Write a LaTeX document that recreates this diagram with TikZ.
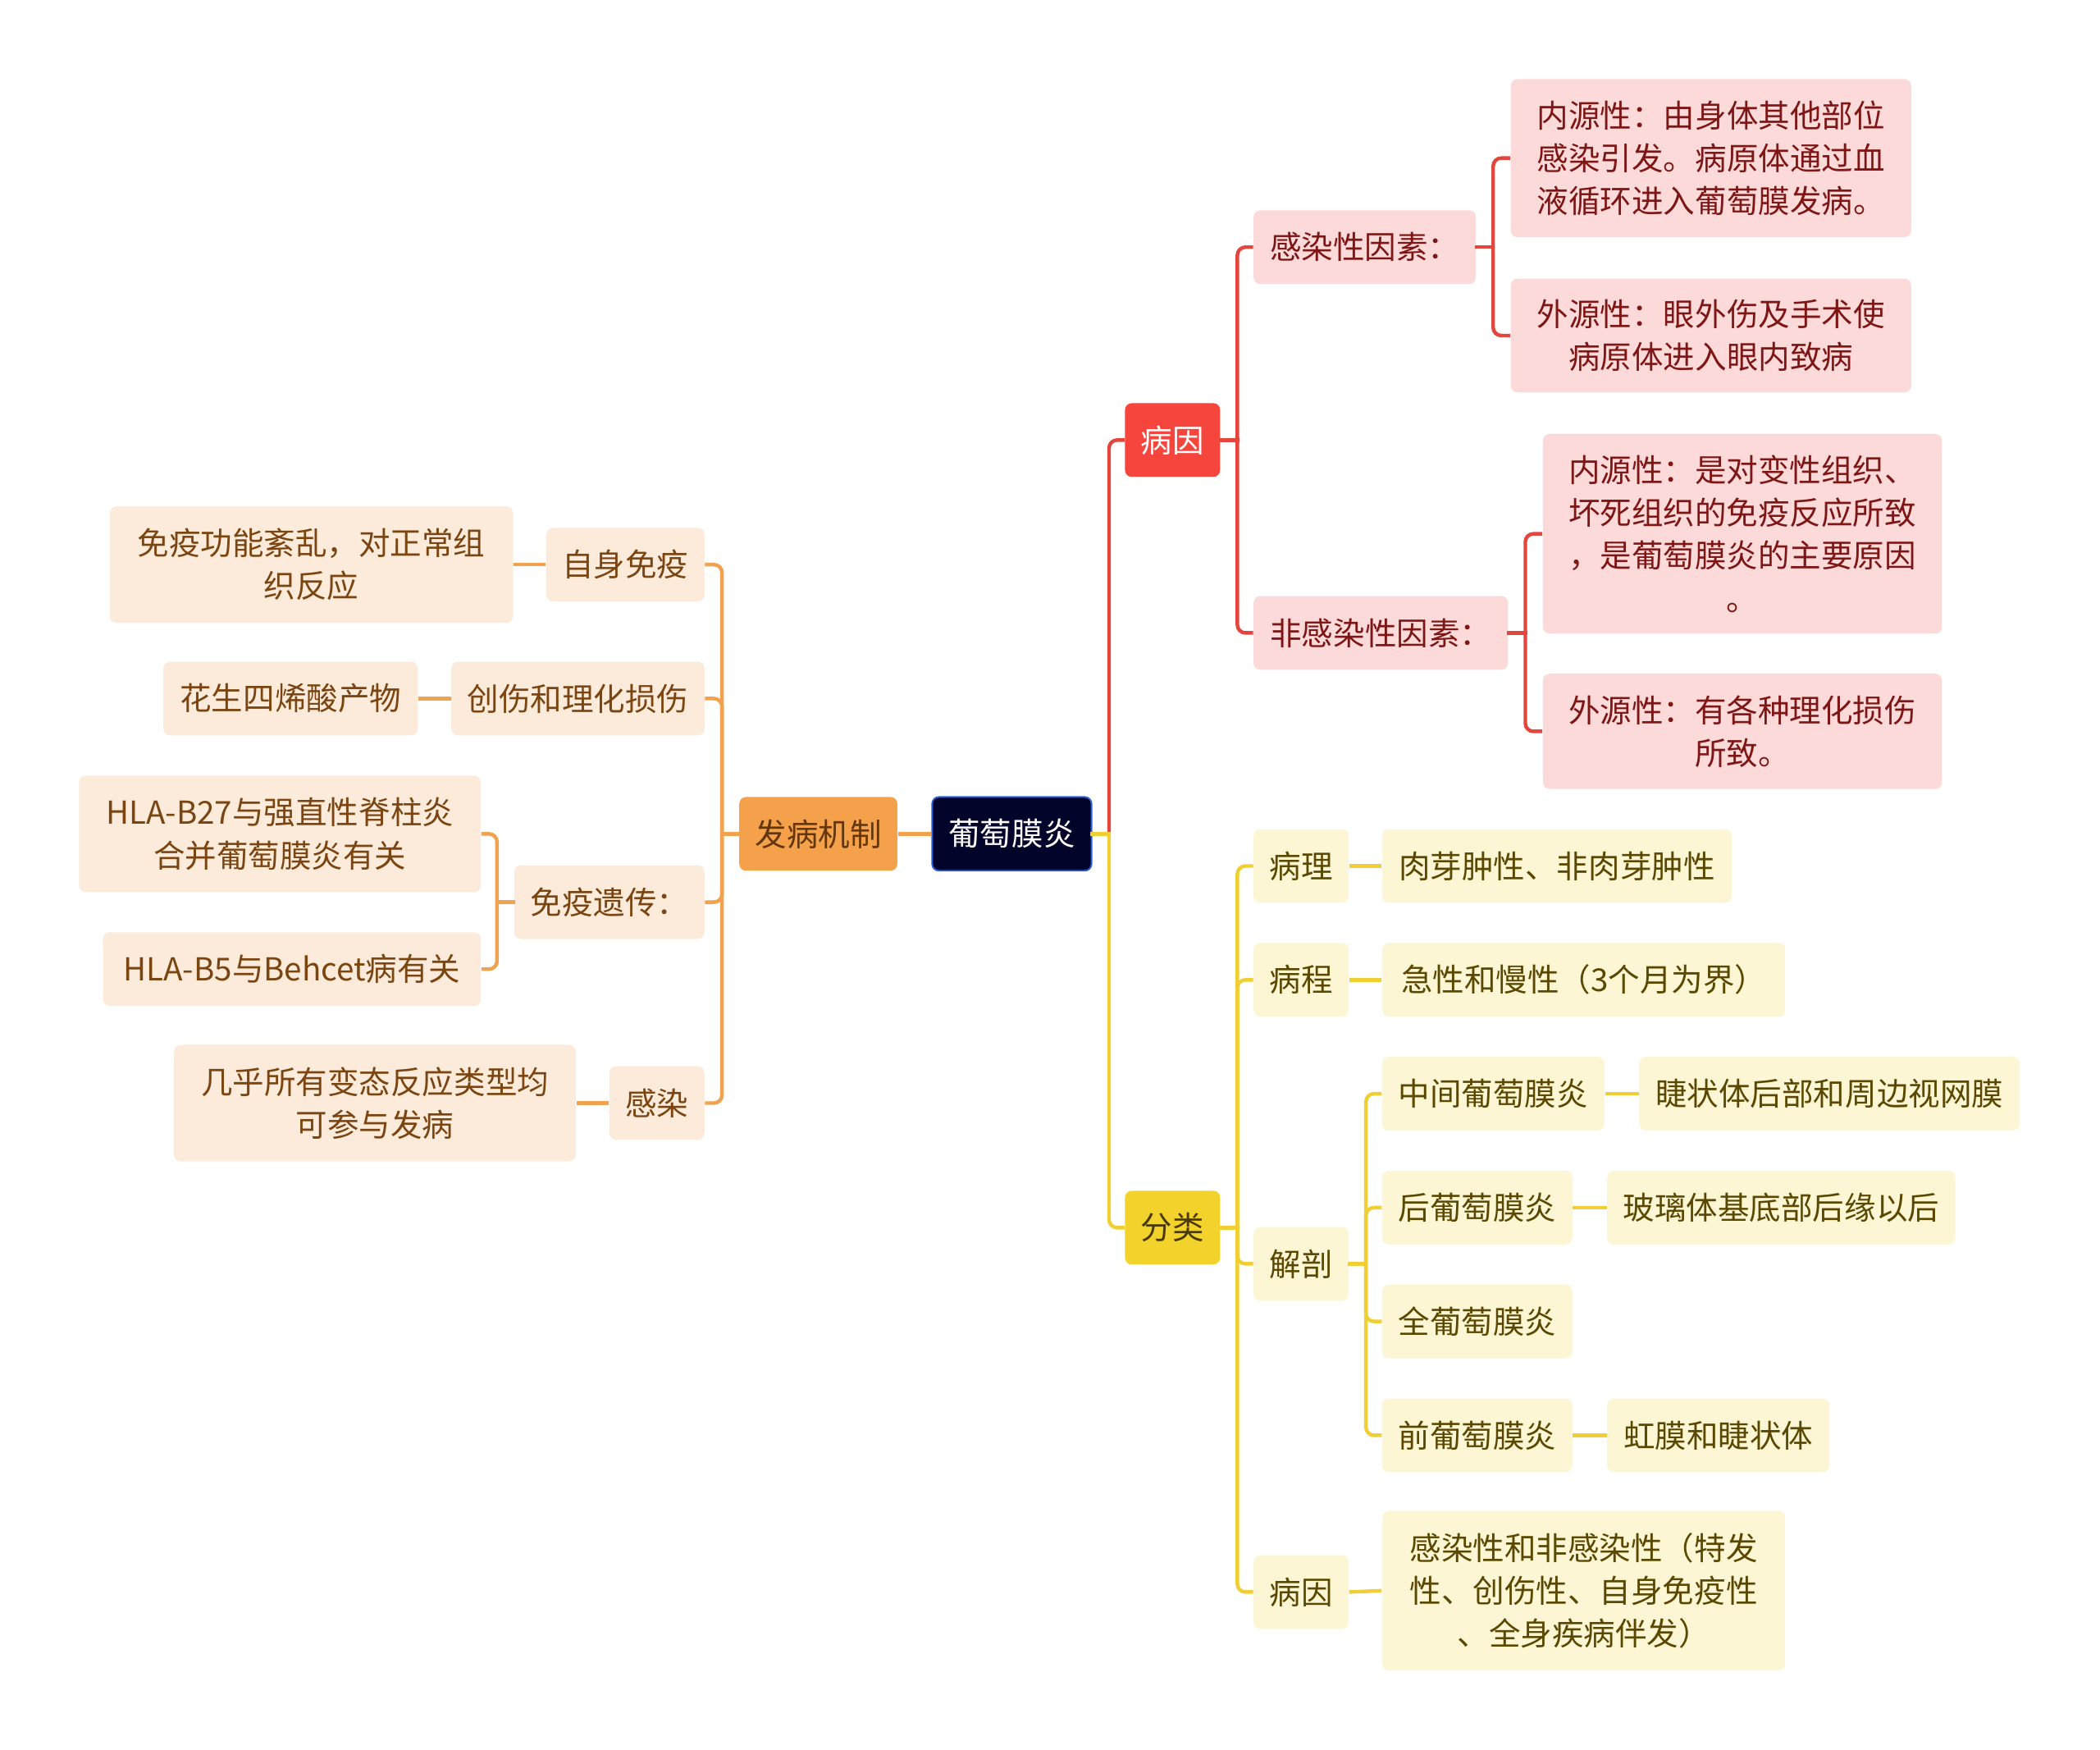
\documentclass[tikz,border=0pt]{standalone}
\usepackage{fontspec}
\setmainfont{Noto Sans CJK SC}
\definecolor{rootfill}{HTML}{03042A}
\definecolor{rootborder}{HTML}{2E5FD6}
\definecolor{redfill}{HTML}{F5453C}
\definecolor{pinkfill}{HTML}{FCDADA}
\definecolor{redtext}{HTML}{7E1616}
\definecolor{redline}{HTML}{E2463D}
\definecolor{orgfill}{HTML}{F5A14B}
\definecolor{peachfill}{HTML}{FCEBDA}
\definecolor{orgtext}{HTML}{7A4510}
\definecolor{orgline}{HTML}{F0A24F}
\definecolor{yelfill}{HTML}{F3D22C}
\definecolor{creamfill}{HTML}{FDF6D4}
\definecolor{yeltext}{HTML}{5A4800}
\definecolor{yelline}{HTML}{EFCF33}
\tikzset{
  base/.style={rounded corners=2.5pt, inner sep=0pt, align=center, font=\fontsize{11.8}{16}\selectfont},
  rootbox/.style={base, fill=rootfill, draw=rootborder, line width=0.6pt, text=white},
  redmain/.style={base, fill=redfill, text=white},
  redsub/.style={base, fill=pinkfill, text=redtext},
  orgmain/.style={base, fill=orgfill, text=orgtext!80!black},
  orgsub/.style={base, fill=peachfill, text=orgtext},
  yelmain/.style={base, fill=yelfill, text=yeltext!80!black},
  yelsub/.style={base, fill=creamfill, text=yeltext},
  conn/.style={line width=1.35pt, rounded corners=3pt},
  rl/.style={conn, draw=redline},
  ol/.style={conn, draw=orgline},
  yl/.style={conn, draw=yelline},
}
\newcommand\mmnode[7]{\node[#1, minimum width={(#5-#3)*0.5pt}, minimum height={(#6-#4)*0.5pt}] (#2) at ({(#3+#5)/2},{(#4+#6)/2}) {#7};}
% stub from parent to its trunk
\newcommand\stubR[2]{\draw[#1, line cap=rect] (#2.east) -- ([xshift=6.25pt]#2.east);}
\newcommand\stubL[2]{\draw[#1, line cap=rect] (#2.west) -- ([xshift=-6.25pt]#2.west);}
% trunk to child, rounded at the child side
\newcommand\linkR[3]{\draw[#1] ([xshift=6.25pt]#2.east) |- (#3.west);}
\newcommand\linkL[3]{\draw[#1] ([xshift=-6.25pt]#2.west) |- (#3.east);}
\begin{document}
\begin{tikzpicture}[x=0.5pt,y=-0.5pt]
\useasboundingbox (0,0) rectangle (1568,1306);
% root and main branches
\mmnode{rootbox}{root}{696}{595}{815}{650}{葡萄膜炎}
\mmnode{orgmain}{fbjz}{552}{595}{670}{650}{发病机制}
\mmnode{redmain}{byA}{840}{301}{911}{356}{病因}
\mmnode{yelmain}{fl}{840}{889}{911}{944}{分类}
% red branch
\mmnode{redsub}{grx}{936}{157}{1102}{212}{感染性因素：}
\mmnode{redsub}{fgrx}{936}{445}{1126}{500}{非感染性因素：}
\mmnode{redsub}{ra}{1128}{59}{1427}{177}{内源性：由身体其他部位\\感染引发。病原体通过血\\液循环进入葡萄膜发病。}
\mmnode{redsub}{rb}{1128}{208}{1427}{293}{外源性：眼外伤及手术使\\病原体进入眼内致病}
\mmnode{redsub}{rc}{1152}{324}{1450}{473}{内源性：是对变性组织、\\坏死组织的免疫反应所致\\，是葡萄膜炎的主要原因\\。}
\mmnode{redsub}{rd}{1152}{503}{1450}{589}{外源性：有各种理化损伤\\所致。}
% yellow branch
\mmnode{yelsub}{bl}{936}{619}{1007}{674}{病理}
\mmnode{yelsub}{blA}{1032}{619}{1293}{674}{肉芽肿性、非肉芽肿性}
\mmnode{yelsub}{bc}{936}{704}{1007}{759}{病程}
\mmnode{yelsub}{bcA}{1032}{704}{1333}{759}{急性和慢性（3个月为界）}
\mmnode{yelsub}{jp}{936}{916}{1007}{971}{解剖}
\mmnode{yelsub}{zj}{1032}{789}{1198}{844}{中间葡萄膜炎}
\mmnode{yelsub}{zjA}{1224}{789}{1508}{844}{睫状体后部和周边视网膜}
\mmnode{yelsub}{hp}{1032}{874}{1174}{929}{后葡萄膜炎}
\mmnode{yelsub}{hpA}{1200}{874}{1460}{929}{玻璃体基底部后缘以后}
\mmnode{yelsub}{qp}{1032}{959}{1174}{1014}{全葡萄膜炎}
\mmnode{yelsub}{qq}{1032}{1044}{1174}{1099}{前葡萄膜炎}
\mmnode{yelsub}{qqA}{1200}{1044}{1366}{1099}{虹膜和睫状体}
\mmnode{yelsub}{byB}{936}{1161}{1007}{1216}{病因}
\mmnode{yelsub}{byBA}{1032}{1128}{1333}{1247}{感染性和非感染性（特发\\性、创伤性、自身免疫性\\、全身疾病伴发）}
% orange branch
\mmnode{orgsub}{zsmy}{408}{394}{526}{449}{自身免疫}
\mmnode{orgsub}{zsmyA}{82}{378}{383}{465}{免疫功能紊乱，对正常组\\织反应}
\mmnode{orgsub}{cshl}{337}{494}{526}{549}{创伤和理化损伤}
\mmnode{orgsub}{cshlA}{122}{494}{312}{549}{花生四烯酸产物}
\mmnode{orgsub}{mycy}{384}{646}{526}{701}{免疫遗传：}
\mmnode{orgsub}{hlaA}{59}{579}{359}{666}{HLA-B27与强直性脊柱炎\\合并葡萄膜炎有关}
\mmnode{orgsub}{hlaB}{77}{696}{359}{751}{HLA-B5与Behcet病有关}
\mmnode{orgsub}{gr}{455}{796}{526}{851}{感染}
\mmnode{orgsub}{grA}{130}{780}{430}{867}{几乎所有变态反应类型均\\可参与发病}
% connectors
\draw[ol] (root.west) -- (fbjz.east);
\linkR{rl}{root}{byA}
\linkR{yl}{root}{fl}
\stubR{yl}{root}
\stubR{rl}{byA}
\linkR{rl}{byA}{grx}
\linkR{rl}{byA}{fgrx}
\stubR{rl}{grx}
\linkR{rl}{grx}{ra}
\linkR{rl}{grx}{rb}
\stubR{rl}{fgrx}
\linkR{rl}{fgrx}{rc}
\linkR{rl}{fgrx}{rd}
\stubR{yl}{fl}
\linkR{yl}{fl}{bl}
\linkR{yl}{fl}{bc}
\linkR{yl}{fl}{jp}
\linkR{yl}{fl}{byB}
\draw[yl] (bl.east) -- (blA.west);
\draw[yl] (bc.east) -- (bcA.west);
\draw[yl] (byB.east) -- (byBA.west);
\stubR{yl}{jp}
\linkR{yl}{jp}{zj}
\linkR{yl}{jp}{hp}
\linkR{yl}{jp}{qp}
\linkR{yl}{jp}{qq}
\draw[yl] (zj.east) -- (zjA.west);
\draw[yl] (hp.east) -- (hpA.west);
\draw[yl] (qq.east) -- (qqA.west);
\stubL{ol}{fbjz}
\linkL{ol}{fbjz}{zsmy}
\linkL{ol}{fbjz}{cshl}
\linkL{ol}{fbjz}{mycy}
\linkL{ol}{fbjz}{gr}
\draw[ol] (zsmy.west) -- (zsmyA.east);
\draw[ol] (cshl.west) -- (cshlA.east);
\draw[ol] (gr.west) -- (grA.east);
\stubL{ol}{mycy}
\linkL{ol}{mycy}{hlaA}
\linkL{ol}{mycy}{hlaB}
\end{tikzpicture}
\end{document}
